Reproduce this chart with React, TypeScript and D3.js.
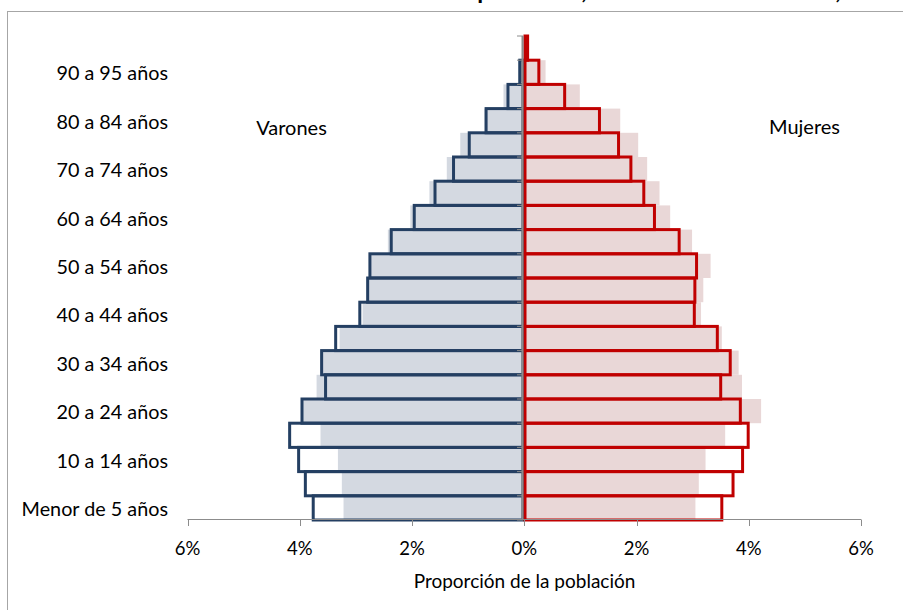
import React from "react";
import * as d3 from "d3";

const categories = [
  "Menor de 5 años", "5 a 9 años", "10 a 14 años", "15 a 19 años", "20 a 24 años",
  "25 a 29 años", "30 a 34 años", "35 a 39 años", "40 a 44 años", "45 a 49 años",
  "50 a 54 años", "55 a 59 años", "60 a 64 años", "65 a 69 años", "70 a 74 años",
  "75 a 79 años", "80 a 84 años", "85 a 89 años", "90 a 95 años", "95 años y más",
];
// outlined bars (current year)
const varonesActual = [3.76, 3.90, 4.02, 4.18, 3.96, 3.54, 3.61, 3.36, 2.93, 2.79, 2.75, 2.37, 1.96, 1.59, 1.26, 0.98, 0.68, 0.29, 0.08, 0.02];
const mujeresActual = [3.52, 3.72, 3.89, 3.99, 3.85, 3.50, 3.67, 3.44, 3.03, 3.04, 3.07, 2.76, 2.32, 2.13, 1.90, 1.68, 1.34, 0.72, 0.26, 0.06];
// shaded bars (comparison)
const varonesComp = [3.22, 3.25, 3.32, 3.63, 3.95, 3.70, 3.63, 3.29, 2.88, 2.79, 2.75, 2.43, 2.03, 1.69, 1.38, 1.14, 0.71, 0.37, 0.10, 0.02];
const mujeresComp = [3.05, 3.11, 3.23, 3.58, 4.22, 3.88, 3.82, 3.52, 3.15, 3.19, 3.32, 2.99, 2.60, 2.41, 2.19, 2.03, 1.71, 0.99, 0.38, 0.08];
const xTicks = [-6, -4, -2, 0, 2, 4, 6];

const FONT = "Lato, 'Noto Sans', sans-serif";

export default function App() {
  const W = 903, H = 610;
  const x = d3.scaleLinear().domain([-6, 6]).range([187.5, 861]);
  const y = d3.scaleBand<string>().domain(categories).range([520, 36]).padding(0);
  const bw = y.bandwidth();
  const x0 = x(0);

  return (
    <svg width={W} height={H} style={{ position: "absolute", left: 0, top: 0, background: "#fff" }} fontFamily={FONT}>
      <rect x={0} y={0} width={W} height={H} fill="#fff" />
      {/* title (cut off at top of the picture, as in the reference) */}
      <text y={-1} fontSize={24} fontWeight="bold" fill="#000">
        <tspan x={587} textAnchor="end">Estructura de la población,</tspan>
      </text>
      <text y={-1} fontSize={24} fontWeight="bold" fill="#000">
        <tspan x={841} textAnchor="end">Ciudad de Buenos Aires,</tspan>
      </text>
      {/* frame */}
      <rect x={7.5} y={11.5} width={W} height={H} fill="none" stroke="#A6A6A6" strokeWidth={1} />

      {/* shaded comparison bars */}
      {categories.map((c, i) => (
        <rect key={"vs" + i} x={x(-varonesComp[i])} y={y(c)} width={x0 - x(-varonesComp[i])} height={bw} fill="#D4D9E1" />
      ))}
      {categories.map((c, i) => (
        <rect key={"ms" + i} x={x0} y={y(c)} width={x(mujeresComp[i]) - x0} height={bw} fill="#E9D7D7" />
      ))}

      {/* outlined bars */}
      {categories.map((c, i) => (
        <rect key={"vo" + i} x={x(-varonesActual[i])} y={y(c)} width={Math.max(0, 523 - x(-varonesActual[i]))} height={bw}
          fill="none" stroke="#243F62" strokeWidth={3} />
      ))}
      {categories.map((c, i) => (
        <rect key={"mo" + i} x={x0 + 0.75} y={y(c)} width={Math.max(0, x(mujeresActual[i]) - x0 - 0.75)} height={bw}
          fill="none" stroke="#C00000" strokeWidth={3} />
      ))}

      {/* vertical axis */}
      <line x1={522.5} x2={522.5} y1={36} y2={520} stroke="#8C8C8C" strokeWidth={2} />
      {categories.map((c, i) => (
        <line key={"yt" + i} x1={517} x2={523} y1={y(c)! + bw} y2={y(c)! + bw} stroke="#8C8C8C" strokeWidth={1} />
      ))}
      <line x1={517} x2={523} y1={36} y2={36} stroke="#8C8C8C" strokeWidth={1} />

      {/* category labels */}
      {categories.map((c, i) => i % 2 === 0 ? (
        <text key={"yl" + i} x={168} y={y(c)! + bw / 2} textAnchor="end" dominantBaseline="central" fontSize={19.8} fill="#000">{c}</text>
      ) : null)}

      {/* x axis */}
      <line x1={x(-6)} x2={x(6)} y1={519.5} y2={519.5} stroke="#8C8C8C" strokeWidth={1} />
      {xTicks.map((t) => (
        <g key={"xt" + t}>
          <line x1={Math.round(x(t)) + 0.5} x2={Math.round(x(t)) + 0.5} y1={519.5} y2={526} stroke="#8C8C8C" strokeWidth={1} />
          <text x={x(t)} y={548} textAnchor="middle" dominantBaseline="central" fontSize={18.5} fill="#000">{Math.abs(t) + "%"}</text>
        </g>
      ))}
      <text x={524.5} y={580} textAnchor="middle" dominantBaseline="central" fontSize={19} fill="#000">Proporción de la población</text>

      <text x={291.5} y={127} textAnchor="middle" dominantBaseline="central" fontSize={20} fill="#000">Varones</text>
      <text x={804.5} y={126} textAnchor="middle" dominantBaseline="central" fontSize={20} fill="#000">Mujeres</text>
    </svg>
  );
}
